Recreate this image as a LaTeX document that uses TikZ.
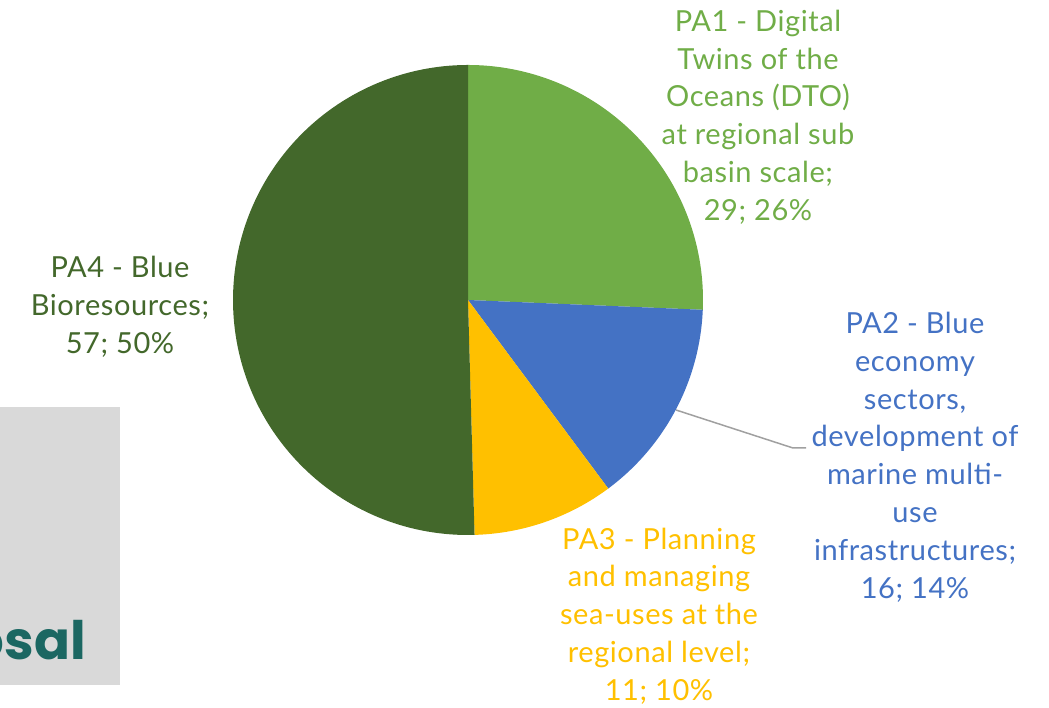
\documentclass[tikz,border=0pt]{standalone}
\usepackage{fontspec}
\setmainfont{Lato}[LetterSpace=2]
\newfontfamily\boxfont{Poppins}[UprightFont=* Bold]
\definecolor{paone}{HTML}{70AD47}
\definecolor{patwo}{HTML}{4472C4}
\definecolor{pathree}{HTML}{FFC000}
\definecolor{pafour}{HTML}{43682B}
\definecolor{boxgray}{HTML}{D9D9D9}
\definecolor{teal}{HTML}{1B6762}
\definecolor{leader}{HTML}{A0A0A0}
\tikzset{
  lbl/.style={align=center, inner sep=0pt, font=\fontsize{29}{37.8}\selectfont}
}
\begin{document}
\begin{tikzpicture}[x=1pt,y=1pt]
\useasboundingbox (0,0) rectangle (1049,708);
% gray box with clipped title
\fill[boxgray] (0,23) rectangle (120,301);
\begin{scope}
\clip (0,23) rectangle (120,301);
\node[anchor=base east, inner sep=0pt, text=teal, font=\boxfont\fontsize{53}{60}\selectfont] (title) at (86,48) {osal};
\end{scope}
% pie
\coordinate (c) at (468,408);
\fill[paone,shift={(c)}] (0,0) -- (90:235) arc[start angle=90, end angle=-2.39, radius=235] -- cycle;
\fill[patwo,shift={(c)}] (0,0) -- (-2.39:235) arc[start angle=-2.39, end angle=-53.36, radius=235] -- cycle;
\fill[pathree,shift={(c)}] (0,0) -- (-53.36:235) arc[start angle=-53.36, end angle=-88.41, radius=235] -- cycle;
\fill[pafour,shift={(c)}] (0,0) -- (-88.41:235) arc[start angle=-88.41, end angle=-270, radius=235] -- cycle;
% labels
\node[lbl, text=paone] (l1) at (758,591) {PA1 - Digital\\Twins of the\\Oceans (DTO)\\at regional sub\\basin scale;\\29; 26\%};
\node[lbl, text=patwo] (l2) at (915,251) {PA2 - Blue\\economy\\sectors,\\development of\\marine multi-\\use\\infrastructures;\\16; 14\%};
\node[lbl, text=pathree] (l3) at (659,92) {PA3 - Planning\\and managing\\sea-uses at the\\regional level;\\11; 10\%};
\node[lbl, text=pafour] (l4) at (120,401) {PA4 - Blue\\Bioresources;\\57; 50\%};
% leader line
\coordinate (p2) at (676,298);
\coordinate (k) at (793,260);
\coordinate (k2) at (806,260);
\draw[leader, line width=1.5pt] (p2) -- (k) -- (k2);
\end{tikzpicture}
\end{document}
